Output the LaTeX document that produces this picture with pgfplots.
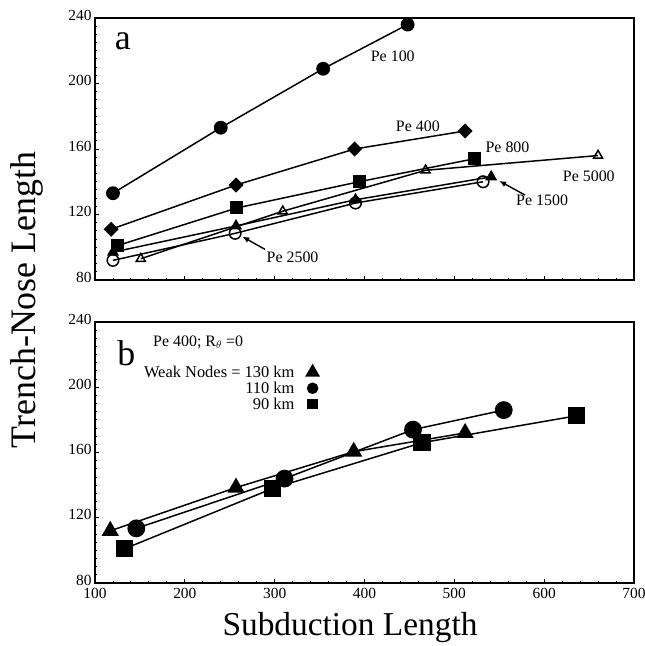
\documentclass[border=0pt]{standalone}
\usepackage{fontspec}
\setmainfont{Liberation Serif}
\usepackage{pgfplots}
\pgfplotsset{compat=1.18}
\usetikzlibrary{arrows.meta}
\tikzset{lab/.style={font=\fontsize{16}{18}\selectfont, inner sep=0pt}}
\begin{document}
\begin{tikzpicture}[x=1bp,y=1bp]
\useasboundingbox (-95bp,-63bp) rectangle (550bp,583bp);
\pgfplotsset{
  panel/.style={scale only axis, width=539bp, xmin=100, xmax=700, ymin=80, ymax=240,
    xtick={100,200,...,700}, ytick={80,120,...,240}, minor x tick num=4, minor y tick num=7,
    tick pos=left, tick align=inside, major tick length=4bp, minor tick length=2bp,
    axis line style={line width=1.4pt}, every tick/.style={line width=0.9pt,black},
    tick label style={font=\fontsize{15.5}{17}\selectfont},
    yticklabel style={yshift=3pt},
    xticklabel style={yshift=-1.5pt},
    /pgf/number format/assume math mode=true,
    clip=false,
    every axis plot/.append style={line width=1.5pt, black}},
}
\pgfplotstableread{
x y
120 133
240 173
354 209
448 236
}\peA
\pgfplotstableread{
x y
118 111
257 138
389 160
512 171
}\peB
\pgfplotstableread{
x y
125 101
258 124
394 140
522 154
}\peC
\pgfplotstableread{
x y
120 97
257 113
390 129
541 143
}\peD
\pgfplotstableread{
x y
120 92
256 108.5
390 127
532 140
}\peE
\pgfplotstableread{
x y
151 93
309 122
468 147
660 156
}\peF
\pgfplotstableread{
x y
117 112
257 138.5
388 160.5
512 172
}\wkA
\pgfplotstableread{
x y
146 113.5
311 144
454 174
555 186
}\wkB
\pgfplotstableread{
x y
133 101
298 138
464 166
636 182.5
}\wkC
% ---------------- panel a
\begin{axis}[panel, at={(0bp,303bp)}, anchor=south west, height=262bp, xticklabels={}]
\addplot[mark=*, mark size=6.2pt] table {\peA};
\addplot[mark=square*, mark size=4.6pt, mark options={rotate=45}] table {\peB};
\addplot[mark=square*, mark size=5.8pt] table {\peC};
\addplot[mark=triangle*, mark size=5.5pt] table {\peD};
\addplot[mark=o, mark size=5.8pt, mark options={fill=white, line width=1.5pt}] table {\peE};
\addplot[mark=triangle, mark size=5.2pt, mark options={fill=white, line width=1.5pt}] table {\peF};
\node[font=\fontsize{36}{40}\selectfont, anchor=center] at (axis cs:131,225.5) {a};
\node[lab] at (axis cs:431.5,216.9) {Pe 100};
\node[lab] at (axis cs:459.4,173.6) {Pe 400};
\node[lab] at (axis cs:559.2,160.9) {Pe 800};
\node[lab] at (axis cs:649.7,143.1) {Pe 5000};
\node[lab] at (axis cs:597.7,128.4) {Pe 1500};
\node[lab] at (axis cs:319.9,93.7) {Pe 2500};
\draw[line width=1.4pt, -{Latex[length=7pt,width=6pt]}] (axis cs:578.6,131.9) -- (axis cs:550,140.5);
\draw[line width=1.4pt, -{Latex[length=7pt,width=6pt]}] (axis cs:289.2,98.7) -- (axis cs:264,106.5);
\end{axis}
% ---------------- panel b
\begin{axis}[panel, at={(0bp,0bp)}, anchor=south west, height=261bp,
  legend style={draw=none, fill=none, at={(0.086,0.842)}, anchor=north west,
    font=\fontsize{16.5}{18}\selectfont, row sep=-1pt, column sep=10pt, inner sep=0.5pt},
  legend cell align=right, legend plot pos=right]
\addplot[mark=triangle*, mark size=8.5pt, forget plot] table {\wkA};
\addplot[mark=*, mark size=8.2pt, forget plot] table {\wkB};
\addplot[mark=square*, mark size=7.8pt, forget plot] table {\wkC};
\addlegendimage{only marks, mark=triangle*, mark size=7.2pt, black}
\addlegendentry{Weak Nodes = 130 km}
\addlegendimage{only marks, mark=*, mark size=5pt, black}
\addlegendentry{110 km}
\addlegendimage{only marks, mark=square*, mark size=4.6pt, black}
\addlegendentry{90 km}
\node[font=\fontsize{36}{40}\selectfont, anchor=center] at (axis cs:135,221) {b};
\node[lab, anchor=west] at (axis cs:164.6,227.5) {Pe 400; R$_\theta$ =0};
\end{axis}
\node[rotate=90, anchor=base, font=\fontsize{36}{40}\selectfont] at (-59bp,283bp) {Trench-Nose Length};
\node[anchor=base, font=\fontsize{33.5}{38}\selectfont] at (255bp,-52bp) {Subduction Length};
\end{tikzpicture}
\end{document}
